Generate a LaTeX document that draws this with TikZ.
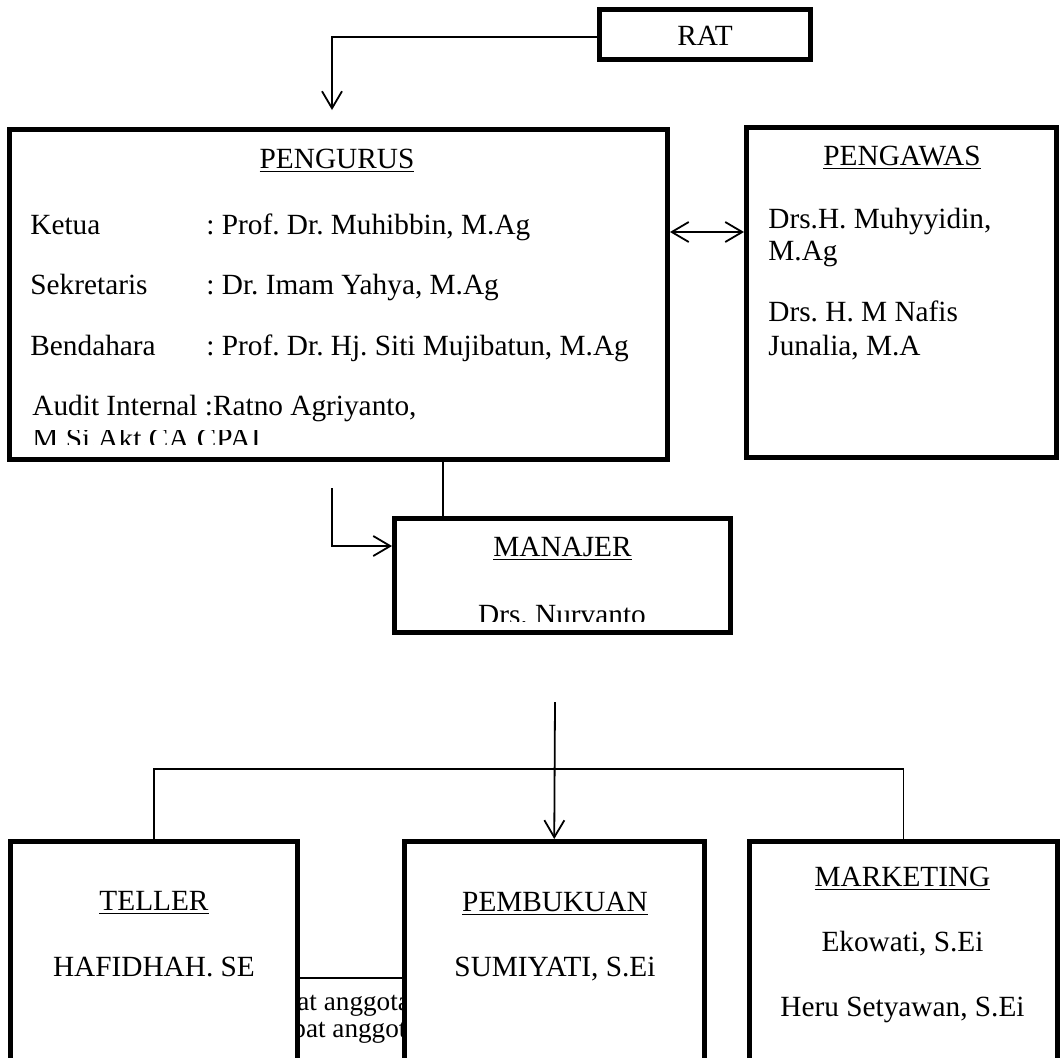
\documentclass[tikz,border=0pt]{standalone}
\usepackage{fontspec}
\setmainfont{Liberation Serif}
\usetikzlibrary{arrows.meta,calc}
\frenchspacing

\begin{document}
\begin{tikzpicture}[x=0.5pt, y=-0.5pt,
    box/.style={draw, line width=2.5pt, fill=white, inner sep=0pt},
    lbl/.style={inner sep=0pt, font=\fontsize{14.65}{16.5}\selectfont},
    small/.style={inner sep=0pt, font=\fontsize{13.6}{15}\selectfont},
    link/.style={line width=0.9pt},
    arr/.style={line width=0.9pt, -{Straight Barb[length=8.5pt,width=10pt]}},
    dblarr/.style={line width=0.9pt, {Straight Barb[length=8.5pt,width=10pt]}-{Straight Barb[length=8.5pt,width=10pt]}}]
        \useasboundingbox (0,0) rectangle (1061,1057);

        % boxes
        \node[box, minimum width=105.5pt, minimum height=25pt] (rat) at (705,34.5) {};
        \node[box, minimum width=329pt, minimum height=165pt] (pengurus) at (338.5,294.5) {};
        \node[box, minimum width=155pt, minimum height=165pt] (pengawas) at (901.5,292.5) {};
        \node[box, minimum width=168pt, minimum height=57pt] (manajer) at (562.5,575.5) {};

        % box hidden behind the staff row, only its top edge and two cut lines show
        \node[draw, line width=1pt, minimum width=70pt, minimum height=86pt, inner sep=0pt] (rapat) at (350,1064) {};
        \node[small, anchor=base west] (rapat1) at (297,1010.5) {at anggota};
        \node[small, anchor=base west] (rapat2) at (292,1037) {pat anggot};

        \node[box, minimum width=143.5pt, minimum height=150pt] (teller) at (154,991.5) {};
        \node[box, minimum width=150.25pt, minimum height=150pt] (pembukuan) at (554.25,991.5) {};
        \node[box, minimum width=154pt, minimum height=150pt] (marketing) at (903.5,991.5) {};

        % texts
        \node[lbl, anchor=base] (ratt) at (705,45) {RAT};

        \node[lbl, anchor=base] (pengurust) at (337,168.5) {\underline{PENGURUS}};
        \node[lbl, anchor=base west] (ketua) at (30,234.5) {Ketua};
        \node[lbl, anchor=base west] (ketuav) at (206,234.5) {: Prof. Dr. Muhibbin, M.Ag};
        \node[lbl, anchor=base west] (sekretaris) at (30,294.5) {Sekretaris};
        \node[lbl, anchor=base west] (sekretarisv) at (206,294.5) {: Dr. Imam Yahya, M.Ag};
        \node[lbl, anchor=base west] (bendahara) at (30,355.5) {Bendahara};
        \node[lbl, anchor=base west] (bendaharav) at (206,355.5) {: Prof. Dr. Hj. Siti Mujibatun, M.Ag};
        \node[lbl, anchor=base west] (audit) at (32,415.5) {Audit Internal :Ratno Agriyanto,};
        \begin{scope}
          \clip (10,430) rectangle (660,444);
          \node[lbl, anchor=base west] (auditv) at (32,448.5) {M.Si.Akt.CA.CPAI};
        \end{scope}

        \node[lbl, anchor=base] (pengawast) at (902,165.5) {\underline{PENGAWAS}};
        \node[lbl, anchor=base west] (awas1) at (768,228.5) {Drs.H. Muhyyidin,};
        \node[lbl, anchor=base west] (awas2) at (768,260.5) {M.Ag};
        \node[lbl, anchor=base west] (awas3) at (768,321.5) {Drs. H. M Nafis};
        \node[lbl, anchor=base west] (awas4) at (768,355.5) {Junalia, M.A};

        \node[lbl, anchor=base] (manajert) at (562.5,556.5) {\underline{MANAJER}};
        \begin{scope}
          \clip (400,590) rectangle (725,621);
          \node[lbl, anchor=base] (manajerv) at (562,624) {Drs. Nurvanto};
        \end{scope}

        \node[lbl, anchor=base] (tellert) at (154,910.5) {\underline{TELLER}};
        \node[lbl, anchor=base] (tellerv) at (154,976.5) {HAFIDHAH. SE};
        \node[lbl, anchor=base] (pembukuant) at (555,911.5) {\underline{PEMBUKUAN}};
        \node[lbl, anchor=base] (pembukuanv) at (555,976.5) {SUMIYATI, S.Ei};
        \node[lbl, anchor=base] (marketingt) at (902.5,886.5) {\underline{MARKETING}};
        \node[lbl, anchor=base] (marketing1) at (902.5,951.5) {Ekowati, S.Ei};
        \node[lbl, anchor=base] (marketing2) at (902.5,1016.5) {Heru Setyawan, S.Ei};

        % connectors
        \coordinate (ratdown) at (332,110);
        \draw[arr] (rat.west |- 0,37) -| (ratdown);
        \draw[dblarr] (pengurus.east |- 0,232) -- (pengawas.west |- 0,232);
        \draw[link] (pengurus.south -| 443,0) -- (manajer.north -| 443,0);
        \coordinate (mgrin) at (332,488);
        \draw[arr] (mgrin) |- (manajer.west |- 0,546);
        \coordinate (staffin) at (555,702);
        \draw[arr] (staffin) -- (pembukuan.north);
        \draw[link] (teller.north) -- (teller.north |- 0,769) -- (marketing.north |- 0,769) -- (marketing.north);
      \end{tikzpicture}
\end{document}
